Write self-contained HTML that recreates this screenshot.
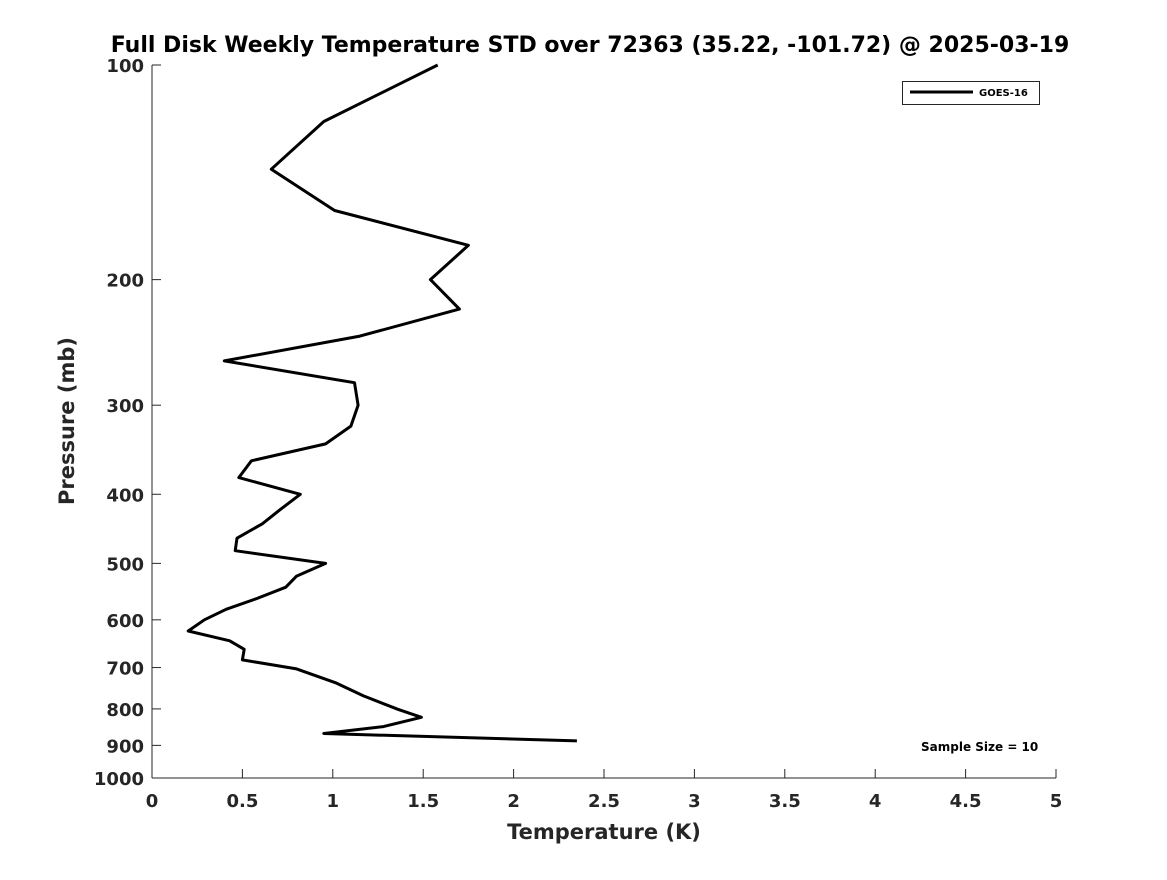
<!DOCTYPE html>
<html><head><meta charset="utf-8"><style>
html,body{margin:0;padding:0;background:#fff;}
svg text{font-family:"DejaVu Sans","Liberation Sans",sans-serif;font-weight:bold;fill:#262626;}
</style></head><body>
<svg id="chart" width="1167" height="875" xmlns="http://www.w3.org/2000/svg">
<rect width="1167" height="875" fill="#fff"/>
<text x="590" y="52" text-anchor="middle" font-size="22" style="fill:#000">Full Disk Weekly Temperature STD over 72363 (35.22, -101.72) @ 2025-03-19</text>
<g id="axes"></g>
<g id="series"></g>
<g>
<rect x="902.5" y="81.5" width="137" height="23" fill="#fff" stroke="#262626" stroke-width="1"/>
<line x1="910" y1="92" x2="973" y2="92" stroke="#000" stroke-width="3"/>
<text x="979" y="96" font-size="10" style="fill:#000">GOES-16</text>
</g>
<text x="921" y="751" font-size="12" style="fill:#000">Sample Size = 10</text>
<text x="604" y="839" text-anchor="middle" font-size="21">Temperature (K)</text>
<text transform="translate(74,421) rotate(-90)" text-anchor="middle" font-size="21">Pressure (mb)</text>
</svg>
<script>
const xTicks = [0,0.5,1,1.5,2,2.5,3,3.5,4,4.5,5];
const xTickLabels = ["0","0.5","1","1.5","2","2.5","3","3.5","4","4.5","5"];
const yTicks = [100,200,300,400,500,600,700,800,900,1000];
const yTickLabels = ["100","200","300","400","500","600","700","800","900","1000"];
const pressure = [100,120,140,160,179,200,220,240,260,279,300,321,340,359,379,400,420,440,461,480,500,521,540,560,580,600,622,642,660,683,703,736,767,801,822,847,866,887];
const temperature = [1.58,0.95,0.66,1.01,1.75,1.54,1.70,1.15,0.40,1.12,1.14,1.10,0.96,0.55,0.48,0.82,0.71,0.61,0.47,0.46,0.96,0.80,0.74,0.58,0.41,0.29,0.20,0.43,0.51,0.50,0.80,1.02,1.17,1.36,1.49,1.28,0.95,2.35];

const X0=152,X1=1056,Y0=65,Y1=778;
const xs=v=>X0+(v-0)/(5-0)*(X1-X0);
const ys=p=>Y0+(Math.log10(p)-2)/(3-2)*(Y1-Y0);
const NS="http://www.w3.org/2000/svg";
const axes=document.getElementById('axes');
function mk(t,a,parent){const e=document.createElementNS(NS,t);for(const k in a)e.setAttribute(k,a[k]);parent.appendChild(e);return e;}
const xl=mk('line',{x1:X0,y1:Y1,x2:X1,y2:Y1,stroke:'#262626','stroke-width':1},axes);


const yl=mk('line',{x1:X0,y1:Y0,x2:X0,y2:Y1,stroke:'#262626','stroke-width':1},axes);


xTicks.forEach((v,i)=>{
  const x=xs(v);
  const t=mk('line',{x1:x,y1:Y1,x2:x,y2:Y1-9,stroke:'#262626'},axes);
  
  
  const l=mk('text',{x:x,y:Y1+29,'text-anchor':'middle','font-size':18},axes);
  l.textContent=xTickLabels[i];
  
  
});
yTicks.forEach((v,i)=>{
  const y=ys(v);
  const t=mk('line',{x1:X0,y1:y,x2:X0+9,y2:y,stroke:'#262626'},axes);
  
  
  const l=mk('text',{x:X0-8,y:y+7,'text-anchor':'end','font-size':18},axes);
  l.textContent=yTickLabels[i];
  
  
});
const pts=pressure.map((p,i)=>xs(temperature[i]).toFixed(1)+','+ys(p).toFixed(1)).join(' ');
const pl=mk('polyline',{points:pts,fill:'none',stroke:'#000','stroke-width':3,'stroke-linejoin':'round'},document.getElementById('series'));


</script>
</body></html>
